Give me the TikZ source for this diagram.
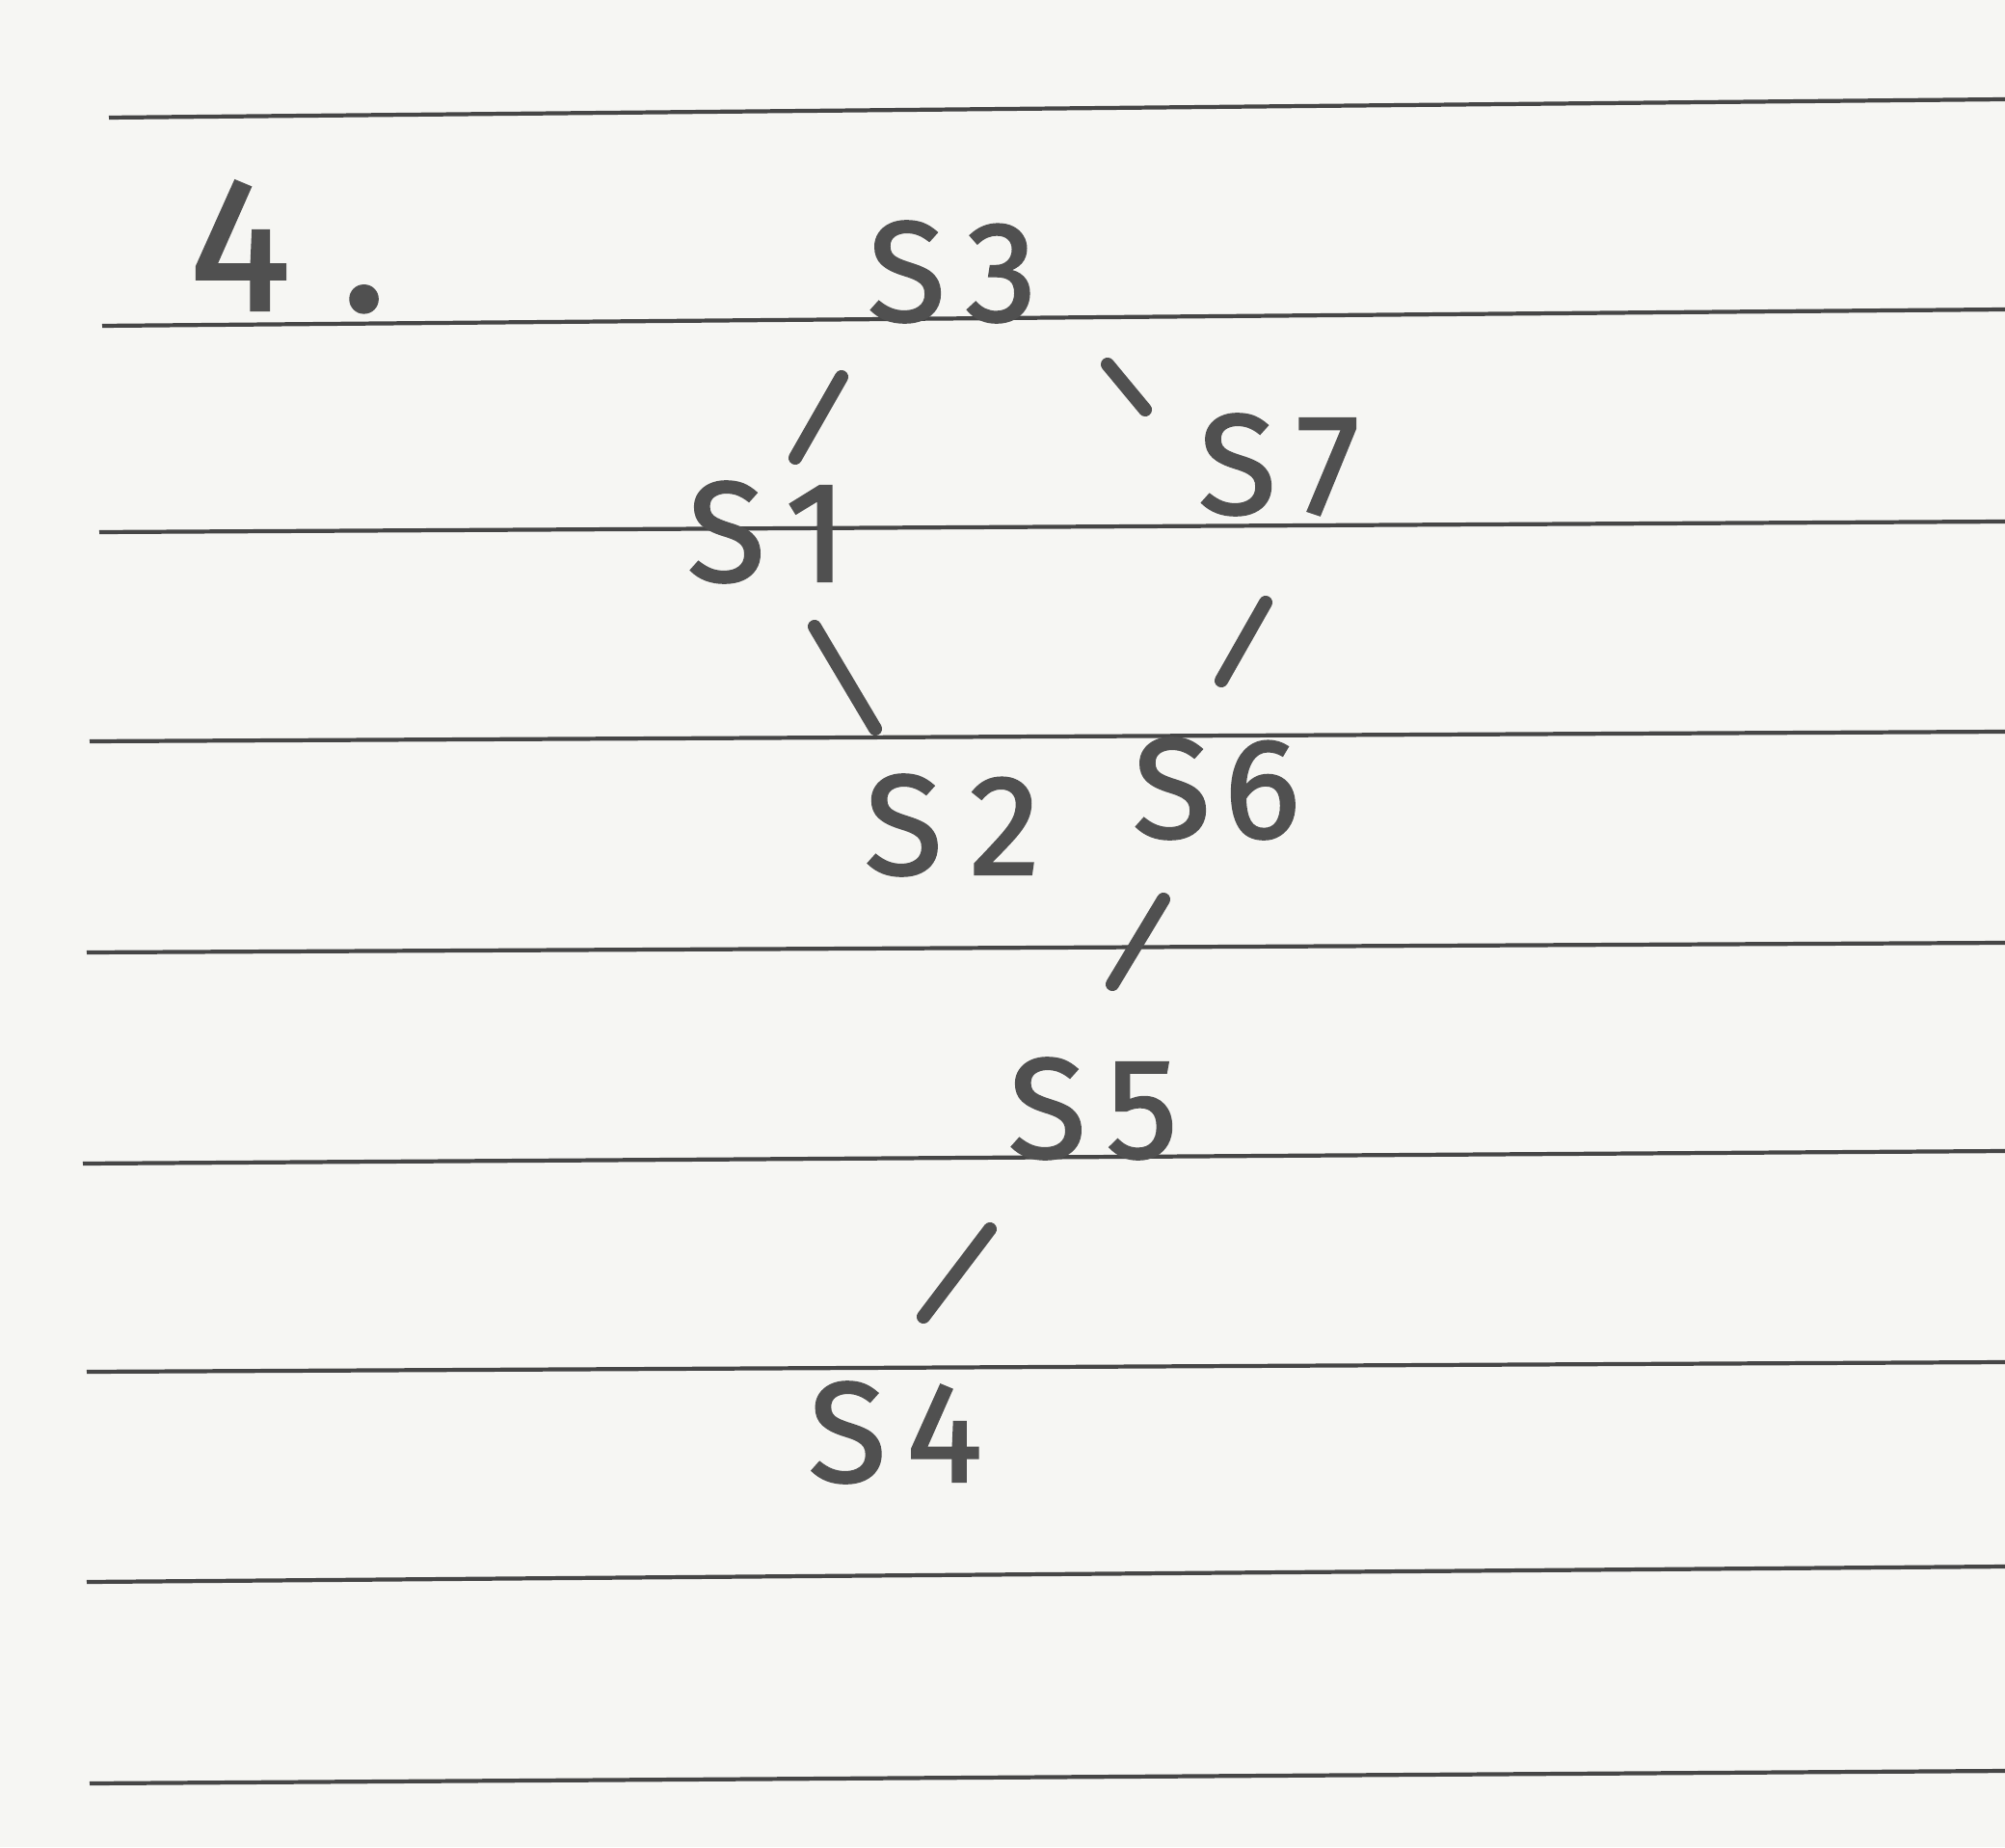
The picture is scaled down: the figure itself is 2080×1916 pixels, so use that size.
\documentclass[tikz,border=0pt]{standalone}
\usepackage{fontspec}
\setmainfont{Fira Sans}
\newfontfamily\hand[FakeBold=1.6]{Fira Sans}
\definecolor{paper}{RGB}{246,246,243}
\definecolor{rule}{RGB}{70,70,70}
\definecolor{ink}{RGB}{80,80,80}
\begin{document}
\begin{tikzpicture}[x=0.01cm,y=-0.01cm,
  ruled/.style={draw=rule,line width=1.2pt},
  lbl/.style={text=ink,inner sep=0pt,font=\hand\fontsize{42}{46}\selectfont},
  stroke/.style={draw=ink,line width=4pt,line cap=round}]
\fill[paper] (0,0) rectangle (2080,1916);
\useasboundingbox (0,0) rectangle (2080,1916);
% ruled lines
\draw[ruled] (113,122) -- (2080,103);
\draw[ruled] (106,338) -- (2080,321);
\draw[ruled] (103,552) -- (2080,541);
\draw[ruled] (93,769) -- (2080,759);
\draw[ruled] (90,988) -- (2080,978);
\draw[ruled] (86,1207) -- (2080,1194);
\draw[ruled] (90,1423) -- (2080,1413);
\draw[ruled] (90,1641) -- (2080,1625);
\draw[ruled] (93,1850) -- (2080,1837);
% labels
\node[lbl,anchor=west,font=\hand\fontsize{56}{60}\selectfont] (q) at (196,256) {4\kern15pt.};
\node[lbl] (S3) at (988,282) {S\kern6pt3};
\node[lbl] (S1) at (796,552) {S\kern6pt1};
\node[lbl] (S7) at (1327,482) {S\kern6pt7};
\node[lbl] (S2) at (988,856) {S\kern8pt2};
\node[lbl] (S6) at (1262,818) {S\kern4pt6};
\node[lbl] (S5) at (1134,1150) {S\kern6pt5};
\node[lbl] (S4) at (929,1486) {S\kern6pt4};
% connector ends
\coordinate (e1a) at (873,391); \coordinate (e1b) at (825,475);
\coordinate (e2a) at (1149,378); \coordinate (e2b) at (1188,425);
\coordinate (e3a) at (845,650); \coordinate (e3b) at (908,756);
\coordinate (e4a) at (1313,625); \coordinate (e4b) at (1267,706);
\coordinate (e5a) at (1207,933); \coordinate (e5b) at (1154,1021);
\coordinate (e6a) at (1027,1275); \coordinate (e6b) at (958,1366);
\draw[stroke] (e1a) -- (e1b);
\draw[stroke] (e2a) -- (e2b);
\draw[stroke] (e3a) -- (e3b);
\draw[stroke] (e4a) -- (e4b);
\draw[stroke] (e5a) -- (e5b);
\draw[stroke] (e6a) -- (e6b);
\end{tikzpicture}
\end{document}
